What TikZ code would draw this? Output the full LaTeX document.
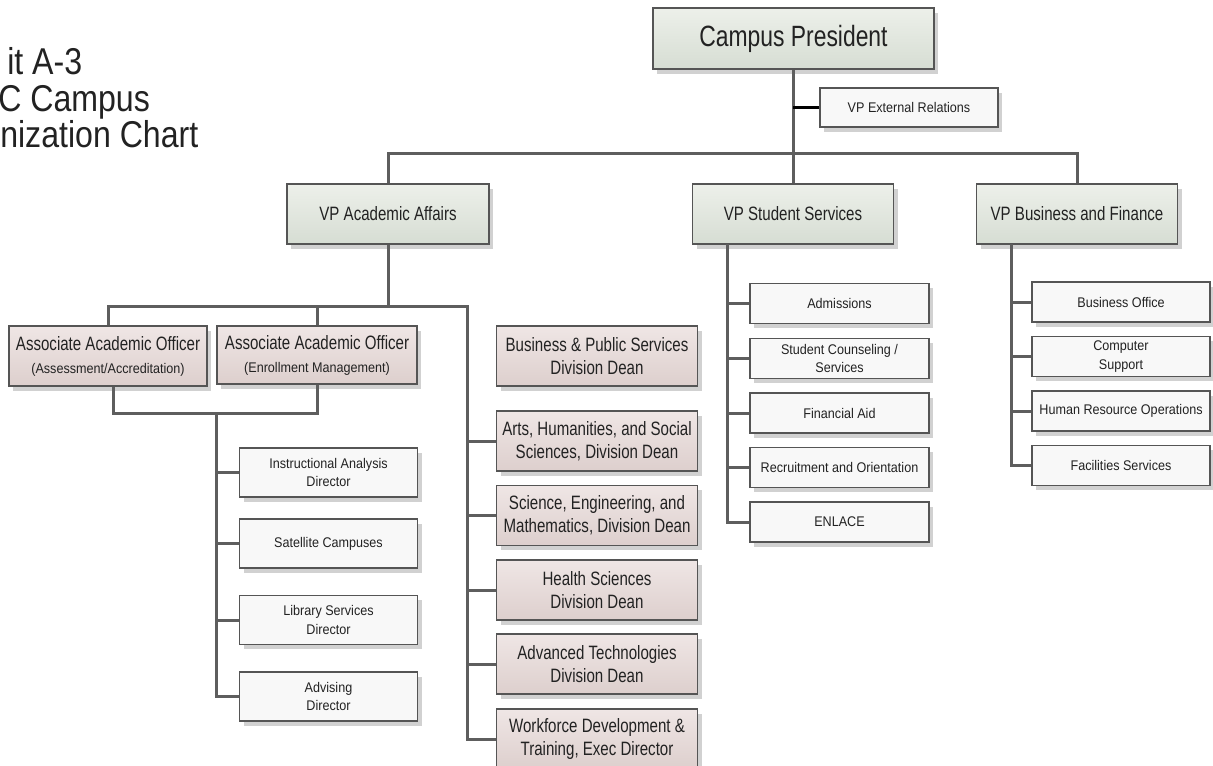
\documentclass[tikz,border=0pt]{standalone}
\usepackage{fontspec}
\setmainfont{Liberation Sans}
\newfontfamily\bigf{Liberation Sans}[FakeStretch=0.78]
\newfontfamily\smallf{Liberation Sans}[FakeStretch=0.9]
\newfontfamily\titlef{Liberation Sans}[FakeStretch=0.86]
\usetikzlibrary{shadows}
\definecolor{gT}{HTML}{EDF0EA}
\definecolor{gB}{HTML}{D6DDD3}
\definecolor{pT}{HTML}{EFE6E5}
\definecolor{pB}{HTML}{DDCFCD}
\definecolor{wF}{HTML}{F8F8F8}
\definecolor{bordc}{HTML}{555555}
\definecolor{connc}{HTML}{5E5E5E}
\definecolor{txtc}{HTML}{222222}
\begin{document}
\begin{tikzpicture}[x=0.75pt,y=-0.75pt,
  sz/.style 2 args={minimum width=#1*0.75pt, minimum height=#2*0.75pt},
  box/.style={draw=bordc, line width=0.8pt, inner sep=0pt, align=center, text=txtc,
    drop shadow={shadow xshift=3pt, shadow yshift=-3.5pt, opacity=0.18, fill=black}},
  gbox/.style={box, top color=gT, bottom color=gB, font=\bigf\fontsize{14.5pt}{17.3pt}\selectfont},
  pbox/.style={box, top color=pT, bottom color=pB, font=\bigf\fontsize{14.5pt}{17.3pt}\selectfont},
  wbox/.style={box, fill=wF, font=\smallf\fontsize{10.5pt}{14pt}\selectfont},
  conn/.style={draw=connc, line width=2.25pt},
  extconn/.style={draw=black, line width=2.25pt},
  titletext/.style={anchor=base west, inner sep=0pt, text=txtc, font=\titlef\fontsize{28pt}{34pt}\selectfont}
]
\path[use as bounding box, clip] (0,0) rectangle (1213,765);

% title
\node[titletext] (t1) at (7,74) {it A-3};
\node[titletext] (t2) at (-2,111) {C Campus};
\node[titletext] (t3) at (0,147) {nization Chart};

% top level
\node[gbox, sz={281}{61}, font=\bigf\fontsize{22pt}{25pt}\selectfont] (pres) at (793.5,38.5) {Campus President};
\node[wbox, sz={178}{39}] (ext) at (909,107.5) {VP External Relations};
\node[gbox, sz={202}{60}] (vpaa) at (388,214) {VP Academic Affairs};
\node[gbox, sz={201}{60}] (vpss) at (793,214) {VP Student Services};
\node[gbox, sz={201}{60}] (vpbf) at (1077,214) {VP Business and Finance};

% student services
\node[wbox, sz={179}{40}] (s1) at (839.5,303.5) {Admissions};
\node[wbox, sz={179}{40}] (s2) at (839.5,358.5) {Student Counseling /\\Services};
\node[wbox, sz={179}{40}] (s3) at (839.5,413) {Financial Aid};
\node[wbox, sz={179}{40}] (s4) at (839.5,467.5) {Recruitment and Orientation};
\node[wbox, sz={179}{40}] (s5) at (839.5,522) {ENLACE};

% business and finance
\node[wbox, sz={178}{40}] (b1) at (1121,302) {Business Office};
\node[wbox, sz={178}{40}] (b2) at (1121,356.5) {Computer\\Support};
\node[wbox, sz={178}{40}] (b3) at (1121,411) {Human Resource Operations};
\node[wbox, sz={178}{40}] (b4) at (1121,465.5) {Facilities Services};

% associates
\node[pbox, sz={198}{60}] (a1) at (108,356) {Associate Academic Officer\\{\smallf\fontsize{10.5pt}{14pt}\selectfont (Assessment/Accreditation)}};
\node[pbox, sz={200}{58}] (a2) at (317,355) {Associate Academic Officer\\{\smallf\fontsize{10.5pt}{14pt}\selectfont (Enrollment Management)}};

% associate children
\node[wbox, sz={178}{49}] (c1) at (328.5,472.5) {Instructional Analysis\\Director};
\node[wbox, sz={178}{49}] (c2) at (328.5,543.5) {Satellite Campuses};
\node[wbox, sz={178}{49}] (c3) at (328.5,620) {Library Services\\Director};
\node[wbox, sz={178}{49}] (c4) at (328.5,696.5) {Advising\\Director};

% deans
\node[pbox, sz={201}{60}] (d0) at (597,356) {Business \& Public Services\\Division Dean};
\node[pbox, sz={201}{60}] (d1) at (597,441) {Arts, Humanities, and Social\\Sciences, Division Dean};
\node[pbox, sz={201}{60}] (d2) at (597,515.5) {Science, Engineering, and\\Mathematics, Division Dean};
\node[pbox, sz={201}{60}] (d3) at (597,590) {Health Sciences\\Division Dean};
\node[pbox, sz={201}{60}] (d4) at (597,664) {Advanced Technologies\\Division Dean};
\node[pbox, sz={201}{60}] (d5) at (597,739) {Workforce Development \&\\Training, Exec Director};

% coordinates for spines
\coordinate (bar) at (388,153);
\coordinate (dtop) at (467,306);
\coordinate (ctop) at (216,413);
\coordinate (sstop) at (727,244);
\coordinate (bftop) at (1011,244);

% top connectors
\draw[conn] (vpss.north |- pres.south) -- (vpss.north);
\draw[extconn] (ext.west) -- (ext.west -| vpss.north);
\draw[conn] (vpaa.north) |- (bar) -| (vpbf.north);
\draw[conn] (bar) -- (bar -| vpbf.north);

% academic
\draw[conn] (vpaa.south) -- (vpaa.south |- dtop);
\draw[conn] (a1.north) |- (dtop) |- (d5.west);
\draw[conn] (a2.north) -- (a2.north |- dtop);
\foreach \d in {d1,d2,d3,d4} \draw[conn] (\d.west) -- (\d.west -| dtop);

% associates to children
\draw[conn] ([xshift=3.75pt]a1.south) |- (ctop) -| (a2.south);
\draw[conn] (ctop) -- (ctop -| a2.south);
\draw[conn] (ctop) |- (c4.west);
\foreach \c in {c1,c2,c3} \draw[conn] (\c.west) -- (\c.west -| ctop);

% student services
\draw[conn] (sstop) |- (s5.west);
\foreach \s in {s1,s2,s3,s4} \draw[conn] (\s.west) -- (\s.west -| sstop);

% business
\draw[conn] (bftop) |- (b4.west);
\foreach \b in {b1,b2,b3} \draw[conn] (\b.west) -- (\b.west -| bftop);
\end{tikzpicture}
\end{document}
